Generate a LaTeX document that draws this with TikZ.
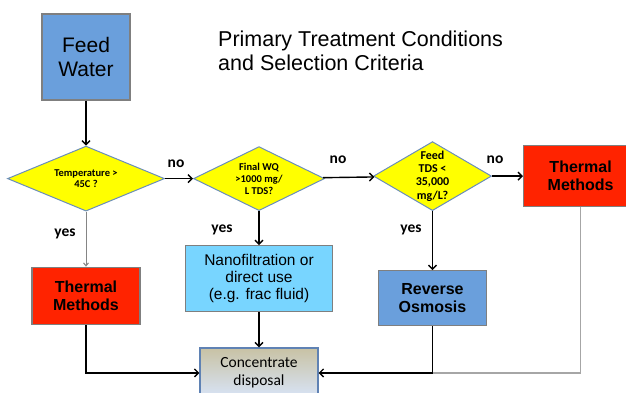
\documentclass[tikz,border=0pt]{standalone}
\usepackage{fontspec}
\setmainfont{Liberation Sans}
\newfontfamily\calibri{Carlito}
\usetikzlibrary{positioning,shapes.geometric,arrows.meta}
\definecolor{FeedBlue}{HTML}{6A9FDC}
\definecolor{HotRed}{HTML}{FF2300}
\definecolor{DecYellow}{HTML}{FFFF00}
\definecolor{DecEdge}{HTML}{6A8DBA}
\definecolor{NanoBlue}{HTML}{78D5FF}
\definecolor{BoxEdge}{HTML}{7F7F7F}
\definecolor{ConcTop}{HTML}{C8C2A4}
\definecolor{ConcBottom}{HTML}{D8E4F8}
\definecolor{ConcEdge}{HTML}{5F82B4}
\definecolor{FaintLine}{HTML}{A6A6A6}

\begin{document}
\begin{tikzpicture}[x=1pt, y=-1pt, every node/.style={inner sep=0pt}]
        \tikzstyle{proc}=[draw=BoxEdge, line width=1.2pt, align=center]
        \tikzstyle{decision}=[diamond, draw=DecEdge, line width=1pt, fill=DecYellow, align=center, inner sep=-8pt]
        \tikzstyle{flow}=[-{Straight Barb[length=4pt,width=8pt]}, line width=1.4pt]
        \tikzstyle{answer}=[font=\calibri\bfseries\fontsize{15.5}{18}\selectfont]
        \clip (0,0) rectangle (626,392);
        \node[anchor=north west, align=left, font=\fontsize{21.5}{24}\selectfont] (title) at (218,31) {Primary Treatment Conditions\\and Selection Criteria};
        \node[proc, fill=FeedBlue, minimum width=88pt, minimum height=86pt, font=\fontsize{21}{24}\selectfont] (feed) at (86,57) {Feed\\Water};
        \node[decision, minimum width=157pt, minimum height=65pt, font=\calibri\bfseries\fontsize{10.5}{11}\selectfont, below=45pt of feed] (temp) {Temperature >\\45C ?};
        \node[decision, minimum width=131pt, minimum height=64pt, font=\calibri\bfseries\fontsize{10.5}{12}\selectfont, right=28pt of temp] (wq) {Final WQ\\>1000 mg/\\L TDS?};
        \node[decision, minimum width=118pt, minimum height=69pt, font=\calibri\bfseries\fontsize{12}{13.3}\selectfont, right=48pt of wq, yshift=2.5pt] (tds) {Feed\\TDS <\\35,000\\mg/L?};
        \node[proc, fill=HotRed, minimum width=114pt, minimum height=61pt, font=\bfseries\fontsize{16}{18}\selectfont, right=31pt of tds] (hotB) {Thermal\\Methods};
        \node[proc, fill=HotRed, minimum width=108pt, minimum height=57pt, font=\bfseries\fontsize{16}{18}\selectfont, below=55pt of temp] (hotA) {Thermal\\Methods};
        \node[proc, fill=NanoBlue, minimum width=147pt, minimum height=66pt, font=\fontsize{15.5}{17}\selectfont, below=34pt of wq] (nano) {Nanofiltration or\\direct use\\(e.g. frac fluid)};
        \node[proc, fill=FeedBlue, minimum width=108pt, minimum height=55pt, font=\bfseries\fontsize{16}{18}\selectfont, below=59pt of tds] (ro) {Reverse\\Osmosis};
        \node[proc, draw=ConcEdge, top color=ConcTop, bottom color=ConcBottom, minimum width=118pt, minimum height=50pt, font=\calibri\fontsize{15.5}{18}\selectfont, below=35pt of nano] (conc) {Concentrate\\disposal};
        \node[answer, anchor=base] (no1) at (176,167) {no};
        \node[answer, anchor=base] (no2) at (338,163) {no};
        \node[answer, anchor=base] (no3) at (495,163) {no};
        \node[answer, anchor=base] (yes1) at (65,236) {yes};
        \node[answer, anchor=base] (yes2) at (222,232) {yes};
        \node[answer, anchor=base] (yes3) at (411,232) {yes};
        \coordinate (join) at (ro |- conc);
        \draw[flow] (feed) -- (temp);
        \draw[flow] (temp) -- (wq);
        \draw[flow] (wq) -- (tds);
        \draw[flow] (tds) -- (hotB);
        \draw[-{Straight Barb[length=3pt,width=5pt]}, FaintLine!80!black, line width=1pt] (temp) -- (hotA);
        \draw[flow] (wq) -- (nano);
        \draw[flow] (tds) -- (ro);
        \draw[FaintLine, line width=1.2pt] (hotB) |- (join);
        \draw[flow] (hotA) |- (conc);
        \draw[flow] (nano) -- (conc);
        \draw[flow] (ro) |- (conc);
      \end{tikzpicture}
\end{document}
